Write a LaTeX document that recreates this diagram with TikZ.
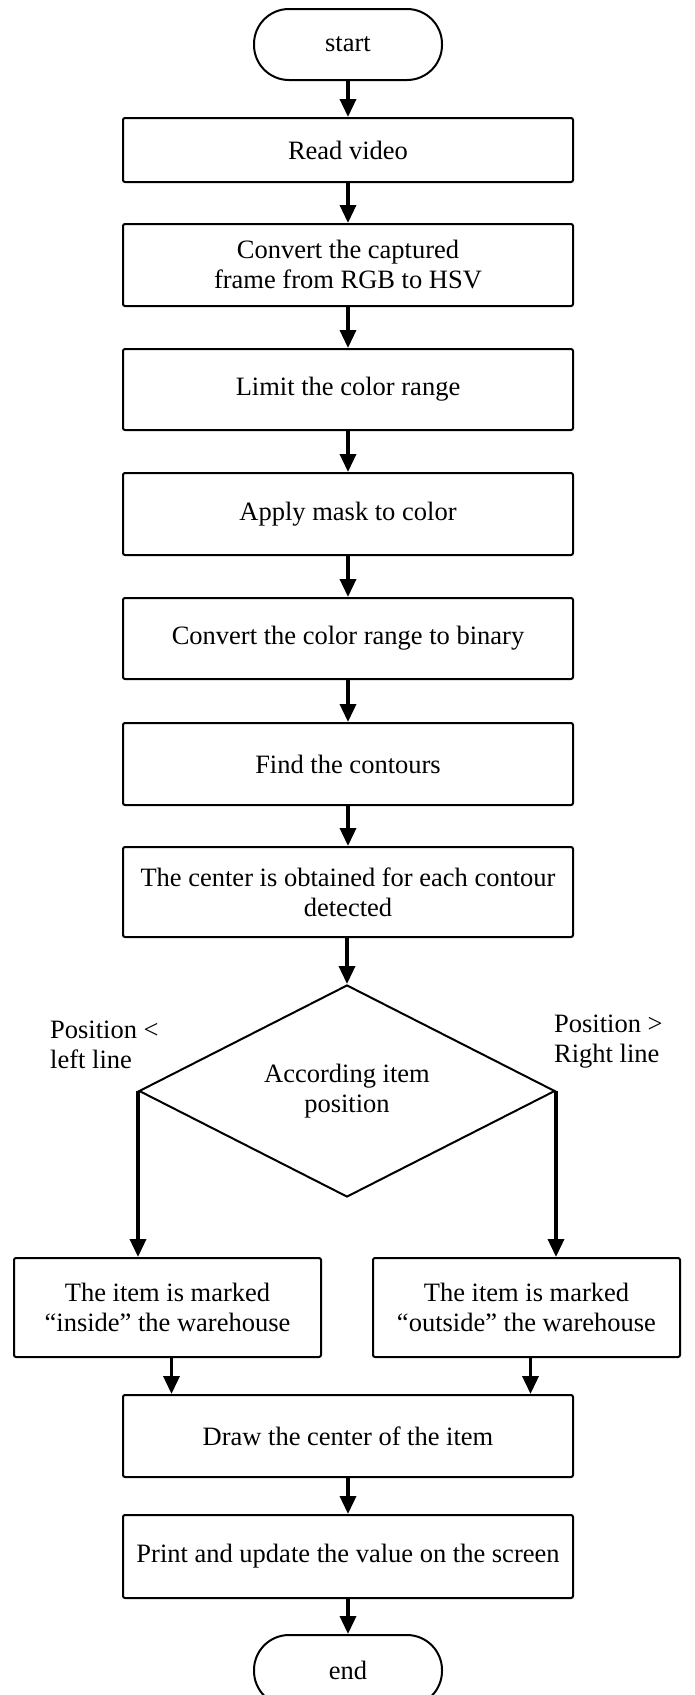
\documentclass[tikz,border=0pt]{standalone}
\usepackage{fontspec}
\setmainfont{Liberation Serif}
\usetikzlibrary{arrows.meta,shapes.geometric}
\begin{document}
\begin{tikzpicture}[x=1pt,y=-1pt,
  every node/.style={font=\fontsize{26.5}{30}\selectfont},
  box/.style={draw,line width=2pt,rounded corners=2pt,minimum width=450pt,inner sep=2pt,align=center},
  term/.style={draw,line width=2pt,rounded corners=35pt,minimum width=188pt,minimum height=71pt,inner sep=2pt},
  dec/.style={draw,line width=2pt,diamond,aspect=1.96,minimum width=416pt,minimum height=212pt,inner sep=0pt,align=center},
  lbl/.style={align=left,inner sep=0pt,anchor=west},
  arr/.style={line width=3.5pt,-{Triangle[length=18pt,width=16pt]}}]
\useasboundingbox (0,0) rectangle (694,1695);
\node[term] (start) at (348,44.5) {start};
\node[box,minimum height=64pt] (read) at (348,150) {Read video};
\node[box,minimum height=82pt] (conv) at (348,265) {Convert the captured\\frame from RGB to HSV};
\node[box,minimum height=81pt] (limit) at (348,389.5) {Limit the color range};
\node[box,minimum height=82pt] (mask) at (348,514) {Apply mask to color};
\node[box,minimum height=81pt] (bin) at (348,638.5) {Convert the color range to binary};
\node[box,minimum height=82pt] (cont) at (348,764) {Find the contours};
\node[box,minimum height=90pt] (cent) at (348,892) {The center is obtained for each contour\\detected};
\node[dec] (dia) at (347,1091) {According item\\position};
\node[lbl] (ll) at (50,1045) {Position <\\left line};
\node[lbl] (rl) at (554,1042) {Position >\\Right line};
\node[box,minimum width=307pt,minimum height=99pt] (lbox) at (167.5,1307.5) {The item is marked\\“inside” the warehouse};
\node[box,minimum width=307pt,minimum height=99pt] (rbox) at (526.5,1307.5) {The item is marked\\“outside” the warehouse};
\node[box,minimum height=82pt] (drawc) at (348,1436) {Draw the center of the item};
\node[box,minimum height=83pt] (print) at (348,1556.5) {Print and update the value on the screen};
\node[term] (end) at (348,1670.5) {end};
\draw[arr] (start) -- (read);
\draw[arr] (read) -- (conv);
\draw[arr] (conv) -- (limit);
\draw[arr] (limit) -- (mask);
\draw[arr] (mask) -- (bin);
\draw[arr] (bin) -- (cont);
\draw[arr] (cont) -- (cent);
\draw[arr] (cent.south -| dia.north) -- (dia.north);
\draw[arr] (dia.west) -- (dia.west |- lbox.north);
\draw[arr] (dia.east) -- (dia.east |- rbox.north);
\draw[arr] ([xshift=4pt]lbox.south) -- ([xshift=4pt]lbox.south |- drawc.north);
\draw[arr] ([xshift=4pt]rbox.south) -- ([xshift=4pt]rbox.south |- drawc.north);
\draw[arr] (drawc) -- (print);
\draw[arr] (print) -- (end);
\end{tikzpicture}
\end{document}
